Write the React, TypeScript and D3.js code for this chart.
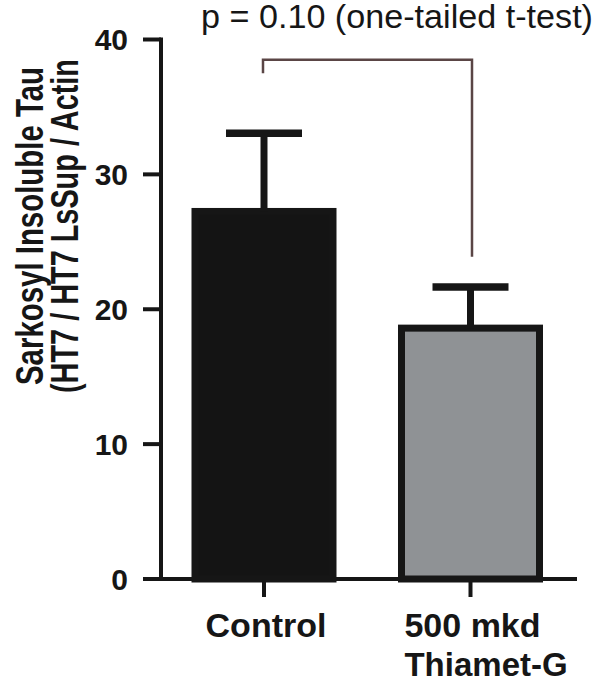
import React, { useEffect, useRef } from 'react';
import * as d3 from 'd3';

// values
const categories = ['Control', '500 mkd\nThiamet-G'];
const means = [27.25, 18.6];
const sems = [5.8, 3.05];
const barFills = ['#141414', '#8f9295'];
const yTicks = [0, 10, 20, 30, 40];
const yTitle = ['Sarkosyl Insoluble Tau', '(HT7 / HT7 LsSup / Actin'];
const yTitleLengths = [318, 334];
const pLabel = 'p = 0.10 (one-tailed t-test)';
// bracket levels in data units: [left end, top, right end]
const bracketLevels = [37.5, 38.5, 23.9];

const FONT = "'Liberation Sans', Arial, Helvetica, sans-serif";
const INK = '#161616';

const W = 600;
const H = 682;

const App = () => {
  const svgRef = useRef<SVGSVGElement | null>(null);

  useEffect(() => {
    const svg = d3.select(svgRef.current);
    svg.selectAll('*').remove();

    const y = d3.scaleLinear().domain([0, 40]).range([579, 39.5]);
    const x = d3.scaleBand<string>()
      .domain(categories)
      .range([126.5, 608])
      .padding(0.3317);

    const axisX = 161;
    const g = svg.append('g');

    // bars
    const data = categories.map((c, i) => ({ c, m: means[i], s: sems[i], fill: barFills[i] }));
    g.selectAll('rect.bar')
      .data(data)
      .join('rect')
      .attr('class', 'bar')
      .attr('x', d => x(d.c)!)
      .attr('width', x.bandwidth())
      .attr('y', d => y(d.m))
      .attr('height', d => y(0) - y(d.m))
      .attr('fill', d => d.fill)
      .attr('stroke', INK)
      .attr('stroke-width', 7);

    // error bars (upper only)
    const capHalf = 38;
    data.forEach(d => {
      const cx = x(d.c)! + x.bandwidth() / 2;
      g.append('line')
        .attr('x1', cx).attr('x2', cx)
        .attr('y1', y(d.m)).attr('y2', y(d.m + d.s))
        .attr('stroke', INK).attr('stroke-width', 7);
      g.append('line')
        .attr('x1', cx - capHalf).attr('x2', cx + capHalf)
        .attr('y1', y(d.m + d.s)).attr('y2', y(d.m + d.s))
        .attr('stroke', INK).attr('stroke-width', 7.5);
    });

    // y axis
    g.append('line')
      .attr('x1', axisX).attr('x2', axisX)
      .attr('y1', y(40) - 2).attr('y2', y(0) + 2)
      .attr('stroke', INK).attr('stroke-width', 4);
    g.selectAll('line.ytick')
      .data(yTicks)
      .join('line')
      .attr('class', 'ytick')
      .attr('x1', 143).attr('x2', axisX)
      .attr('y1', d => y(d)).attr('y2', d => y(d))
      .attr('stroke', INK).attr('stroke-width', 4);
    g.selectAll('text.ylab')
      .data(yTicks)
      .join('text')
      .attr('class', 'ylab')
      .attr('x', 128)
      .attr('y', d => y(d) + 10.5)
      .attr('text-anchor', 'end')
      .attr('font-family', FONT)
      .attr('font-weight', 'bold')
      .attr('font-size', 30)
      .attr('fill', INK)
      .text(d => d);

    // x axis
    g.append('line')
      .attr('x1', 143).attr('x2', 577)
      .attr('y1', y(0)).attr('y2', y(0))
      .attr('stroke', INK).attr('stroke-width', 4);
    g.selectAll('line.xtick')
      .data(categories)
      .join('line')
      .attr('class', 'xtick')
      .attr('x1', d => x(d)! + x.bandwidth() / 2)
      .attr('x2', d => x(d)! + x.bandwidth() / 2)
      .attr('y1', y(0)).attr('y2', y(0) + 18)
      .attr('stroke', INK).attr('stroke-width', 4);

    // category labels: first line centred, second aligned to its start
    categories.forEach(c => {
      const lines = c.split('\n');
      const cx = x(c)! + x.bandwidth() / 2 + 2;
      const first = g.append('text')
        .attr('x', cx).attr('y', 637)
        .attr('text-anchor', 'middle')
        .attr('font-family', FONT).attr('font-weight', 'bold').attr('font-size', 34)
        .attr('fill', INK)
        .text(lines[0]);
      if (lines[1]) {
        const bb = (first.node() as SVGTextElement).getBBox();
        g.append('text')
          .attr('x', bb.x).attr('y', 676)
          .attr('font-family', FONT).attr('font-weight', 'bold').attr('font-size', 33)
          .attr('fill', INK)
          .text(lines[1]);
      }
    });

    // y title (glyphs are condensed along the line in the original)
    const titleY = 226;
    yTitle.forEach((t, i) => {
      g.append('text')
        .attr('transform', `translate(${43 + i * 35},${titleY}) rotate(-90)`)
        .attr('text-anchor', 'middle')
        .attr('font-family', FONT).attr('font-weight', 'bold').attr('font-size', 38)
        .attr('textLength', yTitleLengths[i])
        .attr('lengthAdjust', 'spacingAndGlyphs')
        .attr('fill', INK)
        .text(t);
    });

    // significance bracket
    const x0 = x(categories[0])! + x.bandwidth() / 2 - 1;
    const x1 = x(categories[1])! + x.bandwidth() / 2 + 1.5;
    const path = d3.path();
    path.moveTo(x0, y(bracketLevels[0]));
    path.lineTo(x0, y(bracketLevels[1]));
    path.lineTo(x1, y(bracketLevels[1]));
    path.lineTo(x1, y(bracketLevels[2]));
    g.append('path')
      .attr('d', path.toString())
      .attr('fill', 'none')
      .attr('stroke', '#5a4545')
      .attr('stroke-width', 2.5);

    g.append('text')
      .attr('x', 201).attr('y', 28)
      .attr('font-family', FONT).attr('font-size', 33)
      .attr('textLength', 392)
      .attr('lengthAdjust', 'spacingAndGlyphs')
      .attr('fill', INK)
      .text(pLabel);
  }, []);

  return (
    <svg
      ref={svgRef}
      width={W}
      height={H}
      style={{ position: 'absolute', left: 0, top: 0, background: '#fff', display: 'block' }}
    />
  );
};

export default App;
